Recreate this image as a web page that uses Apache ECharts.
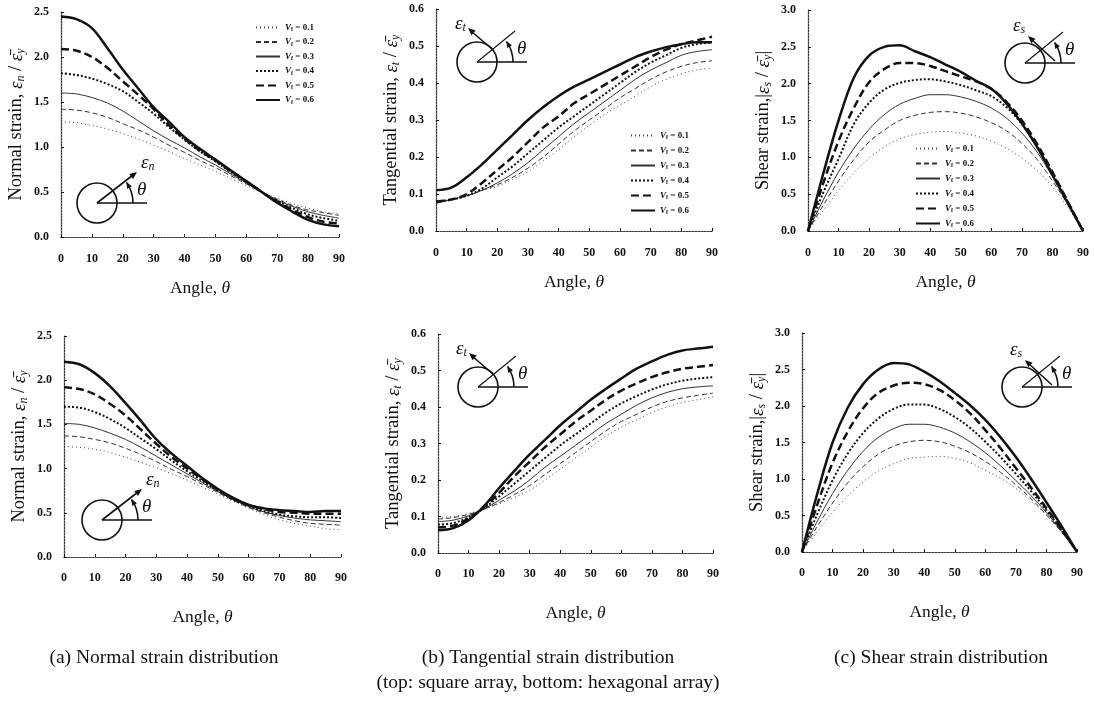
<!DOCTYPE html>
<html>
<head>
<meta charset="utf-8">
<script src="https://cdn.jsdelivr.net/npm/echarts@6.0.0/dist/echarts.min.js"></script>
<style>
  html, body { margin: 0; padding: 0; background: #fff; }
  #chart { width: 1094px; height: 717px; }
</style>
</head>
<body>
<div id="chart"></div>
<script>
// angle, theta (deg)
var angles = [0, 5, 10, 15, 20, 25, 30, 35, 40, 45, 50, 55, 60, 65, 70, 75, 80, 85, 90];
var vfNames = ['Vf = 0.1', 'Vf = 0.2', 'Vf = 0.3', 'Vf = 0.4', 'Vf = 0.5', 'Vf = 0.6'];
var xTicks = [0, 10, 20, 30, 40, 50, 60, 70, 80, 90];

// (a) normal strain, square array  (rows: Vf 0.1 .. 0.6)
var normalSquare = [
    [1.28, 1.27, 1.24, 1.20, 1.15, 1.09, 1.02, 0.95, 0.87, 0.80, 0.73, 0.65, 0.57, 0.50, 0.43, 0.37, 0.32, 0.28, 0.26],
    [1.42, 1.41, 1.38, 1.33, 1.26, 1.19, 1.11, 1.02, 0.94, 0.85, 0.77, 0.68, 0.59, 0.50, 0.42, 0.35, 0.30, 0.27, 0.24],
    [1.60, 1.59, 1.55, 1.49, 1.40, 1.29, 1.18, 1.08, 0.99, 0.89, 0.80, 0.70, 0.60, 0.50, 0.41, 0.34, 0.28, 0.24, 0.21],
    [1.82, 1.80, 1.76, 1.70, 1.62, 1.50, 1.37, 1.22, 1.08, 0.95, 0.84, 0.72, 0.61, 0.50, 0.40, 0.32, 0.25, 0.21, 0.18],
    [2.09, 2.07, 2.00, 1.88, 1.73, 1.58, 1.42, 1.24, 1.09, 0.96, 0.85, 0.73, 0.62, 0.50, 0.39, 0.30, 0.22, 0.17, 0.15],
    [2.45, 2.42, 2.32, 2.10, 1.86, 1.65, 1.44, 1.28, 1.11, 0.98, 0.86, 0.74, 0.62, 0.50, 0.38, 0.28, 0.19, 0.14, 0.12]
];
// (b) tangential strain, square array
var tangSquare = [
    [0.075, 0.085, 0.095, 0.110, 0.120, 0.140, 0.160, 0.190, 0.220, 0.255, 0.285, 0.315, 0.340, 0.365, 0.390, 0.410, 0.425, 0.435, 0.440],
    [0.075, 0.085, 0.095, 0.110, 0.125, 0.145, 0.170, 0.200, 0.235, 0.270, 0.300, 0.330, 0.360, 0.385, 0.410, 0.430, 0.445, 0.455, 0.460],
    [0.075, 0.085, 0.095, 0.110, 0.130, 0.155, 0.185, 0.220, 0.255, 0.290, 0.320, 0.350, 0.380, 0.410, 0.435, 0.455, 0.475, 0.485, 0.490],
    [0.080, 0.085, 0.095, 0.115, 0.145, 0.175, 0.210, 0.245, 0.280, 0.310, 0.340, 0.370, 0.400, 0.430, 0.455, 0.475, 0.495, 0.505, 0.510],
    [0.080, 0.085, 0.100, 0.130, 0.165, 0.200, 0.240, 0.280, 0.310, 0.345, 0.370, 0.395, 0.420, 0.445, 0.470, 0.490, 0.505, 0.515, 0.525],
    [0.110, 0.117, 0.145, 0.180, 0.220, 0.260, 0.300, 0.335, 0.365, 0.390, 0.410, 0.430, 0.450, 0.470, 0.485, 0.497, 0.505, 0.510, 0.510]
];
// (c) shear strain, square array
var shearSquare = [
    [0, 0.28, 0.55, 0.79, 0.99, 1.14, 1.25, 1.31, 1.34, 1.35, 1.33, 1.29, 1.22, 1.12, 0.99, 0.82, 0.60, 0.32, 0],
    [0, 0.35, 0.68, 0.97, 1.21, 1.37, 1.50, 1.57, 1.61, 1.62, 1.60, 1.55, 1.47, 1.36, 1.19, 0.97, 0.68, 0.36, 0],
    [0, 0.42, 0.80, 1.12, 1.38, 1.58, 1.72, 1.80, 1.85, 1.85, 1.82, 1.76, 1.67, 1.53, 1.33, 1.07, 0.74, 0.38, 0],
    [0, 0.52, 0.98, 1.45, 1.74, 1.92, 2.01, 2.05, 2.06, 2.03, 1.98, 1.91, 1.83, 1.68, 1.45, 1.15, 0.78, 0.40, 0],
    [0, 0.65, 1.22, 1.67, 2.02, 2.20, 2.28, 2.28, 2.24, 2.17, 2.10, 2.03, 1.93, 1.75, 1.50, 1.18, 0.80, 0.40, 0],
    [0, 0.78, 1.50, 2.08, 2.38, 2.50, 2.52, 2.44, 2.36, 2.26, 2.16, 2.04, 1.93, 1.73, 1.46, 1.14, 0.76, 0.38, 0]
];
// (a) normal strain, hexagonal array
var normalHex = [
    [1.25, 1.24, 1.22, 1.18, 1.13, 1.07, 1.01, 0.94, 0.87, 0.79, 0.71, 0.63, 0.55, 0.48, 0.42, 0.38, 0.35, 0.32, 0.31],
    [1.37, 1.36, 1.33, 1.29, 1.23, 1.16, 1.08, 0.99, 0.91, 0.82, 0.73, 0.64, 0.56, 0.50, 0.45, 0.41, 0.38, 0.37, 0.36],
    [1.51, 1.50, 1.46, 1.40, 1.33, 1.24, 1.14, 1.04, 0.94, 0.84, 0.74, 0.65, 0.57, 0.51, 0.47, 0.44, 0.42, 0.41, 0.40],
    [1.70, 1.69, 1.64, 1.56, 1.46, 1.34, 1.22, 1.09, 0.97, 0.86, 0.75, 0.65, 0.58, 0.52, 0.48, 0.46, 0.45, 0.45, 0.44],
    [1.92, 1.90, 1.84, 1.73, 1.60, 1.44, 1.28, 1.13, 1.00, 0.88, 0.76, 0.66, 0.59, 0.54, 0.51, 0.50, 0.49, 0.49, 0.49],
    [2.21, 2.18, 2.08, 1.93, 1.74, 1.54, 1.33, 1.17, 1.03, 0.89, 0.77, 0.67, 0.59, 0.55, 0.53, 0.52, 0.51, 0.52, 0.52]
];
// (b) tangential strain, hexagonal array
var tangHex = [
    [0.098, 0.100, 0.108, 0.120, 0.135, 0.152, 0.172, 0.200, 0.230, 0.260, 0.290, 0.320, 0.345, 0.365, 0.385, 0.400, 0.412, 0.420, 0.428],
    [0.093, 0.097, 0.106, 0.120, 0.138, 0.160, 0.185, 0.215, 0.245, 0.275, 0.305, 0.335, 0.360, 0.380, 0.400, 0.415, 0.425, 0.432, 0.438],
    [0.086, 0.090, 0.102, 0.120, 0.145, 0.170, 0.200, 0.235, 0.265, 0.295, 0.325, 0.355, 0.380, 0.405, 0.425, 0.440, 0.450, 0.455, 0.458],
    [0.078, 0.082, 0.098, 0.122, 0.155, 0.190, 0.225, 0.260, 0.295, 0.325, 0.355, 0.385, 0.410, 0.430, 0.448, 0.462, 0.472, 0.478, 0.482],
    [0.070, 0.075, 0.095, 0.125, 0.165, 0.210, 0.250, 0.290, 0.325, 0.360, 0.390, 0.420, 0.445, 0.465, 0.482, 0.495, 0.505, 0.510, 0.515],
    [0.062, 0.068, 0.090, 0.128, 0.178, 0.225, 0.270, 0.310, 0.350, 0.385, 0.420, 0.450, 0.478, 0.505, 0.525, 0.543, 0.555, 0.560, 0.565]
];
// (c) shear strain, hexagonal array
var shearHex = [
    [0, 0.28, 0.54, 0.77, 0.96, 1.11, 1.21, 1.28, 1.30, 1.31, 1.28, 1.22, 1.12, 1.01, 0.87, 0.70, 0.50, 0.27, 0],
    [0, 0.35, 0.67, 0.95, 1.17, 1.34, 1.45, 1.51, 1.53, 1.51, 1.45, 1.36, 1.24, 1.09, 0.92, 0.73, 0.51, 0.27, 0],
    [0, 0.42, 0.80, 1.12, 1.38, 1.57, 1.69, 1.75, 1.75, 1.71, 1.63, 1.51, 1.36, 1.18, 0.98, 0.77, 0.54, 0.28, 0],
    [0, 0.52, 0.98, 1.35, 1.63, 1.83, 1.96, 2.02, 2.02, 1.96, 1.85, 1.70, 1.51, 1.30, 1.07, 0.83, 0.57, 0.30, 0],
    [0, 0.65, 1.22, 1.65, 1.97, 2.18, 2.28, 2.32, 2.30, 2.22, 2.08, 1.90, 1.67, 1.42, 1.15, 0.88, 0.60, 0.31, 0],
    [0, 0.80, 1.50, 1.98, 2.30, 2.50, 2.59, 2.57, 2.47, 2.34, 2.18, 2.01, 1.81, 1.57, 1.30, 1.00, 0.68, 0.35, 0]
];

var dom = document.getElementById('chart');
var myChart = echarts.init(dom);

var SERIF = '"Liberation Serif", "DejaVu Serif", serif';

// line look of each Vf
var lineLooks = [
    {width: 1, type: [1, 3], color: '#444'},
    {width: 1, type: [5, 3], color: '#333'},
    {width: 1, type: 'solid', color: '#333'},
    {width: 2, type: [2, 2], color: '#111'},
    {width: 2.5, type: [8, 4], color: '#111'},
    {width: 2.5, type: 'solid', color: '#111'}
];

// one panel per grid
var panels = [
    {rows: normalSquare, box: [61, 12, 278, 225], yMax: 2.5, yStep: 0.5, name: 'n', row: 0},
    {rows: tangSquare, box: [436, 9, 276, 222], yMax: 0.6, yStep: 0.1, name: 't', row: 0},
    {rows: shearSquare, box: [808, 10, 275, 221], yMax: 3.0, yStep: 0.5, name: 's', row: 0},
    {rows: normalHex, box: [64, 336, 277, 221], yMax: 2.5, yStep: 0.5, name: 'n', row: 1},
    {rows: tangHex, box: [438, 334, 275, 219], yMax: 0.6, yStep: 0.1, name: 't', row: 1},
    {rows: shearHex, box: [802, 333, 275, 219], yMax: 3.0, yStep: 0.5, name: 's', row: 1}
];

var yNames = {
    n: '{t|Normal strain, }{e|ε}{sub|n}{t| / }{e|ε̄}{sub|y}',
    t: '{t|Tangential strain, }{e|ε}{sub|t}{t| / }{e|ε̄}{sub|y}',
    s: '{t|Shear strain,}{t||}{e|ε}{sub|s}{t| / }{e|ε̄}{sub|y}{t||}'
};

var nameRich = {
    t: {fontFamily: SERIF, fontSize: 18.5, color: '#111'},
    e: {fontFamily: SERIF, fontSize: 19, fontStyle: 'italic', color: '#111'},
    sub: {fontFamily: SERIF, fontSize: 12, fontStyle: 'italic', color: '#111', padding: [9, 0, 0, 0]}
};
var xNameRich = {
    t: {fontFamily: SERIF, fontSize: 17.5, color: '#111'},
    e: {fontFamily: SERIF, fontSize: 17.5, fontStyle: 'italic', color: '#111'}
};

var grids = [], xAxes = [], yAxes = [], series = [];

panels.forEach(function (p, i) {
    grids.push({left: p.box[0], top: p.box[1], width: p.box[2], height: p.box[3]});
    xAxes.push({
        gridIndex: i, type: 'value', min: 0, max: 90, interval: 10,
        name: '{t|Angle, }{e|θ}', nameLocation: 'middle', nameGap: p.row === 0 ? 42 : 51,
        nameTextStyle: {rich: xNameRich},
        axisLine: {lineStyle: {color: '#111', width: 1.2}},
        axisTick: {inside: true, length: 3, lineStyle: {color: '#111'}},
        axisLabel: {fontFamily: SERIF, fontWeight: 'bold', fontSize: 12, color: '#111', margin: p.row === 0 ? 16 : 15},
        splitLine: {show: false}
    });
    yAxes.push({
        gridIndex: i, type: 'value', min: 0, max: p.yMax, interval: p.yStep,
        name: yNames[p.name], nameLocation: 'middle', nameGap: 34,
        nameTextStyle: {rich: nameRich},
        axisLine: {show: true, lineStyle: {color: '#111', width: 1.2}},
        axisTick: {show: true, inside: true, length: 3, lineStyle: {color: '#111'}},
        axisLabel: {
            fontFamily: SERIF, fontWeight: 'bold', fontSize: 12, color: '#111', margin: 12,
            formatter: function (v) { return v.toFixed(1); }
        },
        splitLine: {show: false}
    });
    p.rows.forEach(function (vals, k) {
        series.push({
            name: vfNames[k],
            type: 'line',
            xAxisIndex: i,
            yAxisIndex: i,
            smooth: 0.35,
            symbol: 'none',
            animation: false,
            lineStyle: lineLooks[k],
            itemStyle: {color: lineLooks[k].color},
            data: angles.map(function (a, j) { return [a, vals[j]]; })
        });
    });
});

// dotted frame on top and right sides
panels.forEach(function (p, i) {
    xAxes.push({
        gridIndex: i, type: 'value', min: 0, max: 90, position: 'top',
        axisLine: {show: true, lineStyle: {color: '#777', type: [1, 2], width: 1}},
        axisTick: {show: false}, axisLabel: {show: false}, splitLine: {show: false}
    });
    yAxes.push({
        gridIndex: i, type: 'value', min: 0, max: p.yMax, position: 'right',
        axisLine: {show: true, lineStyle: {color: '#777', type: [1, 2], width: 1}},
        axisTick: {show: false}, axisLabel: {show: false}, splitLine: {show: false}
    });
});

function legendAt(left, top, gap) {
    return {
        data: vfNames,
        orient: 'vertical',
        left: left,
        top: top,
        itemWidth: 24,
        itemHeight: 8,
        itemGap: gap,
        selectedMode: false,
        itemStyle: {opacity: 0},
        formatter: function (name) {
            return '{v|V}{f|f}{n| = ' + name.split('= ')[1] + '}';
        },
        textStyle: {
            fontFamily: SERIF, fontSize: 9, fontWeight: 'bold', color: '#111',
            rich: {
                v: {fontFamily: SERIF, fontSize: 9, fontStyle: 'italic', fontWeight: 'bold', color: '#111'},
                f: {fontFamily: SERIF, fontSize: 6, fontWeight: 'bold', color: '#111', padding: [4, 0, 0, 0]},
                n: {fontFamily: SERIF, fontSize: 9, fontWeight: 'bold', color: '#111'}
            }
        }
    };
}

// little circle sketch with the strain arrow
function arrowHead(x1, y1, x2, y2, size) {
    var ang = Math.atan2(y2 - y1, x2 - x1);
    var a1 = ang + Math.PI - 0.4, a2 = ang + Math.PI + 0.4;
    return {
        type: 'polygon',
        shape: {points: [[x2, y2], [x2 + size * Math.cos(a1), y2 + size * Math.sin(a1)], [x2 + size * Math.cos(a2), y2 + size * Math.sin(a2)]]},
        style: {fill: '#111'}
    };
}

function sketch(cx, cy, kind) {
    var els = [];
    var st = {stroke: '#111', lineWidth: 1.6, fill: null};
    els.push({type: 'circle', shape: {cx: cx, cy: cy, r: 20}, style: st});
    els.push({type: 'line', shape: {x1: cx, y1: cy, x2: cx + 50, y2: cy}, style: st});
    // theta arc
    els.push({type: 'arc', shape: {cx: cx, cy: cy, r: 36, startAngle: 0, endAngle: -0.6, clockwise: false}, style: st});
    els.push(arrowHead(cx + 36 * Math.cos(0.45), cy - 36 * Math.sin(0.45), cx + 36 * Math.cos(0.62), cy - 36 * Math.sin(0.62), 7));
    els.push({type: 'text', style: {text: 'θ', x: cx + 40, y: cy - 13, fontFamily: SERIF, fontSize: 19, fontStyle: 'italic', fill: '#111', verticalAlign: 'middle'}});
    var rich = {
        e: {fontFamily: SERIF, fontSize: 19, fontStyle: 'italic', fill: '#111'},
        s: {fontFamily: SERIF, fontSize: 12, fontStyle: 'italic', fill: '#111', padding: [8, 0, 0, 0]}
    };
    if (kind === 'n') {
        els.push({type: 'line', shape: {x1: cx, y1: cy, x2: cx + 36, y2: cy - 28}, style: st});
        els.push(arrowHead(cx, cy, cx + 40, cy - 31, 8));
        els.push({type: 'text', style: {text: '{e|ε}{s|n}', x: cx + 44, y: cy - 40, rich: rich, verticalAlign: 'middle'}});
    } else {
        els.push({type: 'line', shape: {x1: cx, y1: cy, x2: cx + 38, y2: cy - 31}, style: {stroke: '#111', lineWidth: 1.1}});
        if (kind === 't') {
            els.push({type: 'line', shape: {x1: cx + 15, y1: cy - 13, x2: cx - 6, y2: cy - 31}, style: st});
            els.push(arrowHead(cx + 15, cy - 13, cx - 9, cy - 34, 8));
            els.push({type: 'text', style: {text: '{e|ε}{s|t}', x: cx - 22, y: cy - 38, rich: rich, verticalAlign: 'middle'}});
        } else {
            els.push({type: 'line', shape: {x1: cx + 30, y1: cy - 2, x2: cx + 6, y2: cy - 24}, style: st});
            els.push(arrowHead(cx + 30, cy - 2, cx + 3, cy - 27, 8));
            els.push({type: 'text', style: {text: '{e|ε}{s|s}', x: cx - 12, y: cy - 37, rich: rich, verticalAlign: 'middle'}});
        }
    }
    return els;
}

var captionFont = {fontFamily: SERIF, fontSize: 19.5, fill: '#111', align: 'center', verticalAlign: 'middle'};
function caption(text, x, y) {
    return {type: 'text', style: Object.assign({text: text, x: x, y: y}, captionFont)};
}

var graphics = []
    .concat(sketch(97, 203, 'n'))
    .concat(sketch(477, 62, 't'))
    .concat(sketch(1025, 63, 's'))
    .concat(sketch(102, 520, 'n'))
    .concat(sketch(478, 387, 't'))
    .concat(sketch(1022, 387, 's'))
    .concat([
        caption('(a) Normal strain distribution', 164, 658),
        caption('(b) Tangential strain distribution', 548, 658),
        caption('(c) Shear strain distribution', 941, 658),
        caption('(top: square array, bottom: hexagonal array)', 548, 683)
    ]);

var option = {
    backgroundColor: '#fff',
    animation: false,
    legend: [legendAt(250, 18, 5), legendAt(625, 126, 5.5), legendAt(910, 139, 5.5)],
    grid: grids,
    xAxis: xAxes,
    yAxis: yAxes,
    series: series,
    graphic: graphics
};
myChart.setOption(option);
</script>
</body>
</html>
